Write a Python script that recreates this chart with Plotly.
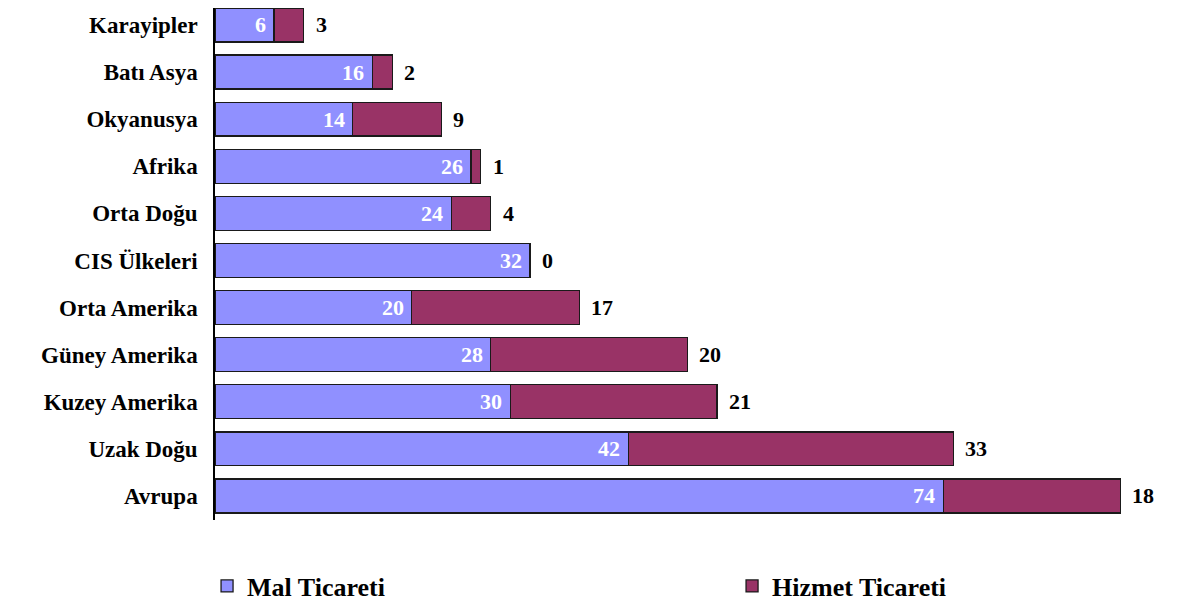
import plotly.graph_objects as go

categories = ["Karayipler", "Batı Asya", "Okyanusya", "Afrika", "Orta Doğu", "CIS Ülkeleri",
              "Orta Amerika", "Güney Amerika", "Kuzey Amerika", "Uzak Doğu", "Avrupa"]
mal = [6, 16, 14, 26, 24, 32, 20, 28, 30, 42, 74]
hizmet = [3, 2, 9, 1, 4, 0, 17, 20, 21, 33, 18]
totals = [m + h for m, h in zip(mal, hizmet)]

FONT = "Liberation Serif"
MAL_COLOR = "#9090FF"
HIZ_COLOR = "#993366"

fig = go.Figure()
fig.add_trace(go.Bar(
    y=categories, x=mal, orientation="h", name="Mal Ticareti", legend="legend",
    marker=dict(color=MAL_COLOR, line=dict(color="#1a1a1a", width=1.3)),
))
fig.add_trace(go.Bar(
    y=categories, x=hizmet, orientation="h", name="Hizmet Ticareti", legend="legend2",
    marker=dict(color=HIZ_COLOR, line=dict(color="#1a1a1a", width=1.3)),
))

annotations = [
    dict(x=m, y=c, text=str(m), xref="x", yref="y", xanchor="right", yanchor="middle",
         xshift=-6, showarrow=False,
         font=dict(family=FONT, size=22, color="white", weight="bold"))
    for c, m in zip(categories, mal)
] + [
    dict(x=t, y=c, text=str(h), xref="x", yref="y", xanchor="left", yanchor="middle",
         xshift=10, showarrow=False,
         font=dict(family=FONT, size=22, color="black", weight="bold"))
    for c, t, h in zip(categories, totals, hizmet)
]

legfont = dict(family=FONT, size=26, color="black", weight="bold")
fig.update_layout(
    barmode="stack", bargap=0.28,
    width=1171, height=596,
    margin=dict(l=207, r=29, t=0, b=84, autoexpand=False),
    paper_bgcolor="white", plot_bgcolor="white",
    font=dict(family=FONT, size=22, color="black", weight="bold"),
    showlegend=True,
    annotations=annotations,
    legend=dict(orientation="h", x=-0.0085, xanchor="left", y=-0.129, yanchor="middle",
                font=legfont, bgcolor="rgba(0,0,0,0)"),
    legend2=dict(orientation="h", x=0.553, xanchor="left", y=-0.129, yanchor="middle",
                 font=legfont, bgcolor="rgba(0,0,0,0)"),
    xaxis=dict(range=[0, 95], visible=False, showgrid=False, zeroline=False, automargin=False),
    yaxis=dict(categoryorder="array", categoryarray=categories, range=[10.51, -0.36],
               showline=True, linecolor="black", linewidth=1.5, ticks="",
               ticklabelstandoff=11, showgrid=False, automargin=False,
               tickfont=dict(family=FONT, size=23, color="black", weight="bold")),
)

fig.write_html("out.html")
